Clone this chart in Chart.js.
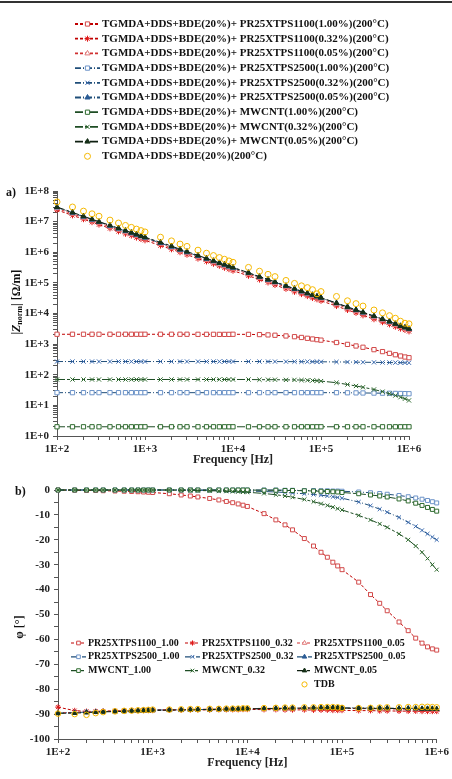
<!DOCTYPE html>
<html>
<head>
<meta charset="utf-8">
<script src="https://cdn.jsdelivr.net/npm/chart.js@4.4.0/dist/chart.umd.min.js"></script>
<style>
  html, body { margin: 0; padding: 0; background: #fff; }
  #page { position: relative; width: 452px; height: 779px; overflow: hidden; }
  #frame { position: absolute; left: 0; top: 1px; width: 452px; height: 0; border-top: 2px solid #333; }
  canvas { position: absolute; left: 0; }
  #zChart { top: 0; }
  #phChart { top: 470px; }
</style>
</head>
<body>
<div id="page">
  <canvas id="zChart" width="452" height="470"></canvas>
  <canvas id="phChart" width="452" height="309"></canvas>
  <div id="frame"></div>
</div>
<script>
const SERIF = "'Liberation Serif', 'Times New Roman', serif";

// frequencies [Hz]
const FREQ = [100, 150, 200, 250, 300, 400, 500, 600, 700, 800, 900,
  1000, 1500, 2000, 2500, 3000, 4000, 5000, 6000, 7000, 8000, 9000,
  1e4, 1.5e4, 2e4, 2.5e4, 3e4, 4e4, 5e4, 6e4, 7e4, 8e4, 9e4,
  1e5, 1.5e5, 2e5, 2.5e5, 3e5, 4e5, 5e5, 6e5, 7e5, 8e5, 9e5,
  1e6];

const LONG_LABELS = [
  'TGMDA+DDS+BDE(20%)+ PR25XTPS1100(1.00%)(200°C)',
  'TGMDA+DDS+BDE(20%)+ PR25XTPS1100(0.32%)(200°C)',
  'TGMDA+DDS+BDE(20%)+ PR25XTPS1100(0.05%)(200°C)',
  'TGMDA+DDS+BDE(20%)+ PR25XTPS2500(1.00%)(200°C)',
  'TGMDA+DDS+BDE(20%)+ PR25XTPS2500(0.32%)(200°C)',
  'TGMDA+DDS+BDE(20%)+ PR25XTPS2500(0.05%)(200°C)',
  'TGMDA+DDS+BDE(20%)+ MWCNT(1.00%)(200°C)',
  'TGMDA+DDS+BDE(20%)+ MWCNT(0.32%)(200°C)',
  'TGMDA+DDS+BDE(20%)+ MWCNT(0.05%)(200°C)',
  'TGMDA+DDS+BDE(20%)(200°C)'
];
const SHORT_LABELS = [
  'PR25XTPS1100_1.00', 'PR25XTPS1100_0.32', 'PR25XTPS1100_0.05',
  'PR25XTPS2500_1.00', 'PR25XTPS2500_0.32', 'PR25XTPS2500_0.05',
  'MWCNT_1.00', 'MWCNT_0.32', 'MWCNT_0.05', 'TDB'
];

// |Znorm| [Ohm/m]
const Z_1100_100 = [2100, 2100, 2100, 2100, 2100, 2100, 2100, 2100, 2100, 2100, 2100,
  2100, 2100, 2100, 2100, 2100, 2090, 2090, 2090, 2080, 2080, 2080,
  2100, 2080, 2050, 2000, 1950, 1850, 1750, 1650, 1550, 1470, 1400,
  1350, 1130, 980, 870, 790, 660, 570, 500, 450, 410, 380,
  360];
const Z_1100_032 = [2.4e7, 1.6e7, 1.2e7, 9.6e6, 8.0e6, 6.0e6, 4.8e6, 4.0e6, 3.5e6, 3.0e6, 2.7e6,
  2.45e6, 1.65e6, 1.25e6, 1.0e6, 8.3e5, 6.2e5, 5.0e5, 4.2e5, 3.6e5, 3.1e5, 2.8e5,
  2.5e5, 1.7e5, 1.28e5, 1.03e5, 8.5e4, 6.4e4, 5.1e4, 4.3e4, 3.7e4, 3.2e4, 2.9e4,
  2.6e4, 1.75e4, 1.3e4, 1.05e4, 8.7e3, 6.5e3, 5.2e3, 4.4e3, 3.7e3, 3.2e3, 2.9e3,
  2.6e3];
const Z_1100_005 = [2.7e7, 1.8e7, 1.35e7, 1.08e7, 9.0e6, 6.8e6, 5.4e6, 4.5e6, 3.9e6, 3.4e6, 3.0e6,
  2.8e6, 1.9e6, 1.4e6, 1.12e6, 9.4e5, 7.0e5, 5.6e5, 4.7e5, 4.0e5, 3.5e5, 3.1e5,
  2.9e5, 1.95e5, 1.45e5, 1.16e5, 9.7e4, 7.3e4, 5.8e4, 4.9e4, 4.2e4, 3.7e4, 3.3e4,
  3.0e4, 2.0e4, 1.5e4, 1.2e4, 1.0e4, 7.5e3, 6.0e3, 5.0e3, 4.2e3, 3.7e3, 3.2e3,
  2.9e3];
const Z_2500_100 = [26, 26, 26, 26, 26, 26, 26, 26, 26, 26, 26,
  26, 26, 26, 26, 26, 26, 26, 26, 26, 26, 26,
  26, 26, 26, 26, 26, 26, 26, 26, 26, 26, 26,
  26, 26, 25.8, 25.6, 25.4, 25.2, 25, 24.8, 24.6, 24.4, 24.2,
  24];
const Z_2500_032 = [270, 270, 270, 270, 270, 270, 270, 270, 270, 270, 270,
  270, 270, 270, 270, 270, 270, 270, 270, 270, 270, 270,
  270, 270, 270, 269, 269, 268, 268, 267, 267, 266, 266,
  265, 262, 260, 258, 256, 254, 252, 250, 249, 248, 247,
  246];
const Z_2500_005 = [2.9e7, 1.95e7, 1.45e7, 1.16e7, 9.7e6, 7.3e6, 5.9e6, 4.9e6, 4.2e6, 3.7e6, 3.3e6,
  3.0e6, 2.0e6, 1.5e6, 1.2e6, 1.0e6, 7.6e5, 6.1e5, 5.1e5, 4.4e5, 3.8e5, 3.4e5,
  3.1e5, 2.1e5, 1.55e5, 1.25e5, 1.05e5, 7.9e4, 6.3e4, 5.2e4, 4.5e4, 4.0e4, 3.6e4,
  3.2e4, 2.15e4, 1.6e4, 1.28e4, 1.07e4, 8.1e3, 6.5e3, 5.4e3, 4.6e3, 4.0e3, 3.5e3,
  3.1e3];
const Z_MW_100 = [2.0, 2.0, 2.0, 2.0, 2.0, 2.0, 2.0, 2.0, 2.0, 2.0, 2.0,
  2.0, 2.0, 2.0, 2.0, 2.0, 2.0, 2.0, 2.0, 2.0, 2.0, 2.0,
  2.0, 2.0, 2.0, 2.0, 2.0, 2.0, 2.0, 2.0, 2.0, 2.0, 2.0,
  2.0, 2.0, 2.0, 2.0, 2.0, 2.0, 2.0, 2.0, 2.0, 2.0, 2.0,
  2.0];
const Z_MW_032 = [70, 70, 70, 70, 70, 70, 70, 70, 70, 70, 70,
  70, 70, 70, 70, 70, 70, 70, 70, 70, 70, 70,
  70, 70, 69, 69, 69, 68, 68, 67, 66, 65, 64,
  62, 55, 48, 43, 39, 33, 28, 24, 21, 18.5, 16.5,
  14.5];
const Z_MW_005 = [3.0e7, 2.0e7, 1.5e7, 1.2e7, 1.0e7, 7.6e6, 6.1e6, 5.1e6, 4.4e6, 3.85e6, 3.4e6,
  3.1e6, 2.1e6, 1.6e6, 1.25e6, 1.05e6, 7.9e5, 6.3e5, 5.3e5, 4.5e5, 4.0e5, 3.5e5,
  3.2e5, 2.15e5, 1.6e5, 1.3e5, 1.08e5, 8.1e4, 6.5e4, 5.4e4, 4.6e4, 4.1e4, 3.6e4,
  3.3e4, 2.2e4, 1.65e4, 1.32e4, 1.1e4, 8.3e3, 6.6e3, 5.5e3, 4.6e3, 3.9e3, 3.5e3,
  3.2e3];
const Z_TDB = [4.4e7, 3.0e7, 2.2e7, 1.8e7, 1.5e7, 1.12e7, 9.0e6, 7.5e6, 6.5e6, 5.7e6, 5.1e6,
  4.6e6, 3.1e6, 2.35e6, 1.85e6, 1.55e6, 1.17e6, 9.3e5, 7.8e5, 6.7e5, 5.9e5, 5.2e5,
  4.7e5, 3.2e5, 2.4e5, 1.9e5, 1.6e5, 1.2e5, 9.6e4, 8.0e4, 7.0e4, 6.0e4, 4.4e4,
  5.2e4, 3.6e4, 2.6e4, 2.1e4, 1.75e4, 1.3e4, 1.05e4, 8.5e3, 7.0e3, 5.6e3, 4.8e3,
  4.6e3];

// phase [deg]
const PH_1100_100 = [0, -0.1, -0.2, -0.2, -0.3, -0.4, -0.5, -0.6, -0.7, -0.8, -0.9,
  -1.0, -1.5, -2.0, -2.4, -2.8, -3.4, -4.0, -4.6, -5.1, -5.6, -6.1,
  -6.6, -9.5, -12, -14, -16, -19.5, -22.5, -25, -27, -29, -30.5,
  -32, -37, -42, -45.5, -48.5, -53, -56.5, -59.5, -61.5, -63, -63.8,
  -64.3];
const PH_1100_032 = [-87.2, -88.6, -88.9, -88.9, -88.8, -88.7, -88.7, -88.6, -88.6, -88.5, -88.5,
  -88.5, -88.4, -88.4, -88.3, -88.3, -88.3, -88.2, -88.2, -88.2, -88.2, -88.1,
  -88.1, -88.2, -88.2, -88.3, -88.3, -88.3, -88.4, -88.4, -88.4, -88.5, -88.5,
  -88.5, -88.6, -88.6, -88.7, -88.7, -88.8, -88.8, -88.8, -88.9, -88.9, -88.9,
  -88.9];
const PH_1100_005 = [-89.5, -89.3, -89.1, -89.0, -88.9, -88.8, -88.7, -88.6, -88.5, -88.4, -88.4,
  -88.3, -88.2, -88.2, -88.1, -88.1, -88.0, -88.0, -87.9, -87.9, -87.9, -87.8,
  -87.8, -87.7, -87.7, -87.6, -87.6, -87.6, -87.5, -87.5, -87.5, -87.5, -87.6,
  -87.7, -87.8, -87.8, -87.9, -87.9, -88.0, -88.0, -88.1, -88.1, -88.2, -88.2,
  -88.3];
const PH_2500_100 = [0, 0, 0, 0, 0, 0, 0, 0, 0, 0, 0,
  0, 0, 0, 0, 0, 0, 0, 0, 0, 0, 0,
  0, 0, 0, -0.1, -0.1, -0.2, -0.2, -0.3, -0.3, -0.4, -0.4,
  -0.5, -0.8, -1.1, -1.4, -1.7, -2.2, -2.7, -3.2, -3.7, -4.2, -4.7,
  -5.2];
const PH_2500_032 = [0, 0, 0, 0, 0, 0, 0, 0, 0, 0, 0,
  0, 0, 0, 0, -0.1, -0.1, -0.1, -0.2, -0.2, -0.2, -0.3,
  -0.4, -0.6, -0.8, -1.0, -1.2, -1.5, -1.8, -2.1, -2.4, -2.7, -3.0,
  -3.3, -4.8, -6.3, -7.7, -8.9, -11, -13, -14.6, -16.2, -17.6, -18.9,
  -20];
const PH_2500_005 = [-89.6, -89.4, -89.2, -89.1, -89.0, -88.9, -88.8, -88.7, -88.6, -88.6, -88.5,
  -88.4, -88.3, -88.3, -88.2, -88.2, -88.1, -88.1, -88.0, -88.0, -88.0, -87.9,
  -87.9, -87.8, -87.7, -87.7, -87.6, -87.6, -87.5, -87.5, -87.4, -87.4, -87.4,
  -87.5, -87.5, -87.6, -87.6, -87.6, -87.7, -87.7, -87.7, -87.8, -87.8, -87.8,
  -87.9];
const PH_MW_100 = [0, 0, 0, 0, 0, 0, 0, 0, 0, 0, 0,
  0, 0, 0, 0, 0, 0, 0, 0, 0, 0, 0,
  0, -0.1, -0.1, -0.2, -0.2, -0.3, -0.4, -0.5, -0.6, -0.7, -0.8,
  -1.0, -1.5, -2.0, -2.4, -2.8, -3.6, -4.4, -5.3, -6.2, -7.0, -7.8,
  -8.5];
const PH_MW_032 = [0, 0, 0, 0, 0, 0, 0, 0, 0, 0, 0,
  0, 0, -0.1, -0.1, -0.2, -0.3, -0.4, -0.5, -0.6, -0.7, -0.8,
  -0.9, -1.4, -1.9, -2.4, -2.9, -3.8, -4.7, -5.5, -6.2, -6.9, -7.5,
  -8.0, -10.2, -12, -13.6, -15, -17.6, -20, -22.5, -25, -27.5, -30,
  -32];
const PH_MW_005 = [-89.7, -89.6, -89.4, -89.2, -89.1, -89.0, -88.9, -88.8, -88.7, -88.6, -88.6,
  -88.5, -88.4, -88.3, -88.3, -88.2, -88.2, -88.1, -88.1, -88.0, -88.0, -88.0,
  -87.9, -87.8, -87.8, -87.7, -87.7, -87.6, -87.6, -87.6, -87.5, -87.5, -87.5,
  -87.6, -87.6, -87.7, -87.7, -87.7, -87.8, -87.8, -87.8, -87.9, -87.9, -87.9,
  -88.0];
const PH_TDB = [-89.8, -90.0, -90.3, -89.6, -89.2, -88.9, -88.7, -88.6, -88.5, -88.4, -88.3,
  -88.2, -88.2, -88.1, -88.0, -88.0, -87.9, -87.9, -87.8, -87.8, -87.8, -87.7,
  -87.7, -87.6, -87.5, -87.4, -87.4, -87.3, -87.3, -87.2, -87.2, -87.2, -87.3,
  -87.5, -87.6, -87.5, -87.4, -87.3, -87.3, -87.2, -87.2, -87.1, -87.1, -87.2,
  -87.3];

// line / marker styles, same order as the labels
const STYLES = [
  { line: '#C00000', mark: '#D24A4A', fill: '#fff', point: 'rect', dash: [3, 2] },
  { line: '#C00000', mark: '#E01818', fill: '#fff', point: 'star', dash: [3, 2] },
  { line: '#D03030', mark: '#E07A7A', fill: '#fff', point: 'triangle', dash: [3, 2] },
  { line: '#1F4E79', mark: '#6C93C8', fill: '#fff', point: 'rect', dash: [6, 2, 1, 2] },
  { line: '#1F4E79', mark: '#3A6AB0', fill: '#fff', point: 'crossRot', dash: [6, 2, 1, 2] },
  { line: '#1F4E79', mark: '#2B5C96', fill: '#2B5C96', point: 'triangle', dash: [6, 2, 1, 2] },
  { line: '#1E4D24', mark: '#2F6B2F', fill: '#fff', point: 'rect', dash: [8, 2, 3, 2] },
  { line: '#1E4D24', mark: '#2F6B2F', fill: '#fff', point: 'crossRot', dash: [8, 2, 3, 2] },
  { line: '#0E1F10', mark: '#163018', fill: '#163018', point: 'triangle', dash: [8, 2, 3, 2] },
  { line: '#FFC000', mark: '#F5B800', fill: 'rgba(255,255,255,0)', point: 'circle', dash: [], noLine: true }
];

const Z_SERIES = [Z_1100_100, Z_1100_032, Z_1100_005, Z_2500_100, Z_2500_032, Z_2500_005,
  Z_MW_100, Z_MW_032, Z_MW_005, Z_TDB];
const PH_SERIES = [PH_1100_100, PH_1100_032, PH_1100_005, PH_2500_100, PH_2500_032, PH_2500_005,
  PH_MW_100, PH_MW_032, PH_MW_005, PH_TDB];

function makeDatasets(series, labels, radius) {
  return series.map((ys, i) => {
    const s = STYLES[i];
    return {
      label: labels[i],
      data: FREQ.map((f, k) => ({ x: f, y: ys[k] })),
      borderColor: s.line,
      borderWidth: 1,
      borderDash: s.dash,
      showLine: !s.noLine,
      pointStyle: s.point,
      pointRadius: radius,
      pointBorderColor: s.mark,
      pointBackgroundColor: s.fill,
      pointBorderWidth: 1,
      clip: false,
      order: s.noLine ? -1 : 9 - i
    };
  });
}

function decadeLabel(v) {
  const e = Math.log10(v);
  return Math.abs(e - Math.round(e)) < 1e-9 ? '1E+' + Math.round(e) : '';
}
// keep only 1..9 x 10^n ticks (drop the 15, 150 ... ones)
function keepIntegerMantissa(scale) {
  scale.ticks = scale.ticks.filter(t => {
    const m = t.value / Math.pow(10, Math.floor(Math.log10(t.value) + 1e-9));
    return Math.abs(m - Math.round(m)) < 1e-6;
  });
}

const tickFont = { family: SERIF, weight: 'bold', size: 11 };
const axisBits = {
  border: { color: '#555', width: 1 },
  grid: { drawOnChartArea: false, tickLength: 4, color: '#555' }
};

function freqAxis(height, titlePad) {
  return {
    type: 'logarithmic', min: 100, max: 1e6,
    ...axisBits,
    afterBuildTicks: keepIntegerMantissa,
    afterFit: s => { s.height = height; },
    ticks: { font: tickFont, color: '#222', padding: 3, autoSkip: false, maxRotation: 0, callback: decadeLabel },
    title: { display: true, text: 'Frequency [Hz]', color: '#222',
      font: { family: SERIF, weight: 'bold', size: 12 }, padding: { top: 0, bottom: titlePad } }
  };
}

// legend drawn as a grid + panel letter + rotated y title
function makeDecor(cfg) {
  return {
    id: 'decor',
    afterDraw(chart) {
      const ctx = chart.ctx;
      const lg = cfg.legend;
      ctx.save();
      lg.items.forEach((idx, n) => {
        if (idx === null) return;
        const s = STYLES[idx];
        const col = n % lg.cols.length, row = Math.floor(n / lg.cols.length);
        const x = lg.cols[col], y = lg.y0 + row * lg.rowH;
        if (!s.noLine) {
          ctx.strokeStyle = s.line;
          ctx.lineWidth = lg.lineW;
          ctx.setLineDash(s.dash);
          ctx.beginPath();
          ctx.moveTo(x, y);
          ctx.lineTo(x + lg.symW, y);
          ctx.stroke();
        }
        ctx.setLineDash([]);
        ctx.strokeStyle = s.mark;
        ctx.fillStyle = s.fill;
        ctx.lineWidth = 1;
        Chart.helpers.drawPoint(ctx, { pointStyle: s.point, radius: lg.r, rotation: 0, borderWidth: 1 }, x + lg.symW / 2, y);
        ctx.fillStyle = '#111';
        ctx.font = lg.font;
        ctx.textAlign = 'left';
        ctx.textBaseline = 'middle';
        ctx.fillText(lg.labels[idx], x + lg.symW + lg.gap, y);
      });

      ctx.fillStyle = '#111';
      ctx.font = 'bold 12px ' + SERIF;
      ctx.textAlign = 'left';
      ctx.textBaseline = 'middle';
      ctx.fillText(cfg.panel.text, cfg.panel.x, cfg.panel.y);

      // y title, rotated, built from parts so a subscript is possible
      const parts = cfg.yTitle.parts;
      let w = 0;
      parts.forEach(p => { ctx.font = p.f; w += ctx.measureText(p.t).width; });
      ctx.translate(cfg.yTitle.x, cfg.yTitle.y);
      ctx.rotate(-Math.PI / 2);
      let cx = -w / 2;
      parts.forEach(p => {
        ctx.font = p.f;
        ctx.fillText(p.t, cx, p.dy);
        cx += ctx.measureText(p.t).width;
      });
      ctx.restore();
    }
  };
}

const B12 = 'bold 12px ' + SERIF;

new Chart(document.getElementById('zChart'), {
  type: 'line',
  data: { datasets: makeDatasets(Z_SERIES, LONG_LABELS, 3) },
  options: {
    responsive: false,
    animation: false,
    layout: { padding: { left: 0, right: 43, top: 191, bottom: 0 } },
    elements: { line: { tension: 0 } },
    plugins: { legend: { display: false }, tooltip: { enabled: false } },
    scales: {
      x: freqAxis(34, 3),
      y: {
        type: 'logarithmic', min: 1, max: 1e8,
        ...axisBits,
        afterBuildTicks: keepIntegerMantissa,
        afterFit: s => { s.width = 57; },
        ticks: { font: tickFont, color: '#222', padding: 4, autoSkip: false, callback: decadeLabel }
      }
    }
  },
  plugins: [makeDecor({
    legend: { items: [0, 1, 2, 3, 4, 5, 6, 7, 8, 9], cols: [75], y0: 24, rowH: 14.7,
      symW: 25, gap: 2, lineW: 1.8, r: 3, font: 'bold 11px ' + SERIF, labels: LONG_LABELS },
    panel: { text: 'a)', x: 6, y: 193 },
    yTitle: { x: 17, y: 302, parts: [
      { t: '|', f: B12, dy: 0 },
      { t: 'Z', f: 'italic bold 12px ' + SERIF, dy: 0 },
      { t: 'norm', f: 'bold 8px ' + SERIF, dy: 3 },
      { t: '| [Ω/m]', f: B12, dy: 0 }
    ] }
  })]
});

new Chart(document.getElementById('phChart'), {
  type: 'line',
  data: { datasets: makeDatasets(PH_SERIES, SHORT_LABELS, 2.8) },
  options: {
    responsive: false,
    animation: false,
    layout: { padding: { left: 0, right: 15, top: 20, bottom: 0 } },
    elements: { line: { tension: 0 } },
    plugins: { legend: { display: false }, tooltip: { enabled: false } },
    scales: {
      x: freqAxis(40, 9),
      y: {
        type: 'linear', min: -100, max: 0,
        ...axisBits,
        afterFit: s => { s.width = 58; },
        ticks: { font: tickFont, color: '#222', padding: 4, autoSkip: false, stepSize: 5,
          callback: v => (v % 10 === 0 ? String(v) : '') }
      }
    }
  },
  plugins: [makeDecor({
    legend: { items: [0, 1, 2, 3, 4, 5, 6, 7, 8, null, null, 9], cols: [71, 185, 297], y0: 173, rowH: 13.8,
      symW: 15, gap: 2, lineW: 1.2, r: 2.6, font: 'bold 10px ' + SERIF, labels: SHORT_LABELS },
    panel: { text: 'b)', x: 15, y: 22 },
    yTitle: { x: 20, y: 157, parts: [{ t: 'φ [°]', f: B12, dy: 0 }] }
  })]
});
</script>
</body>
</html>
